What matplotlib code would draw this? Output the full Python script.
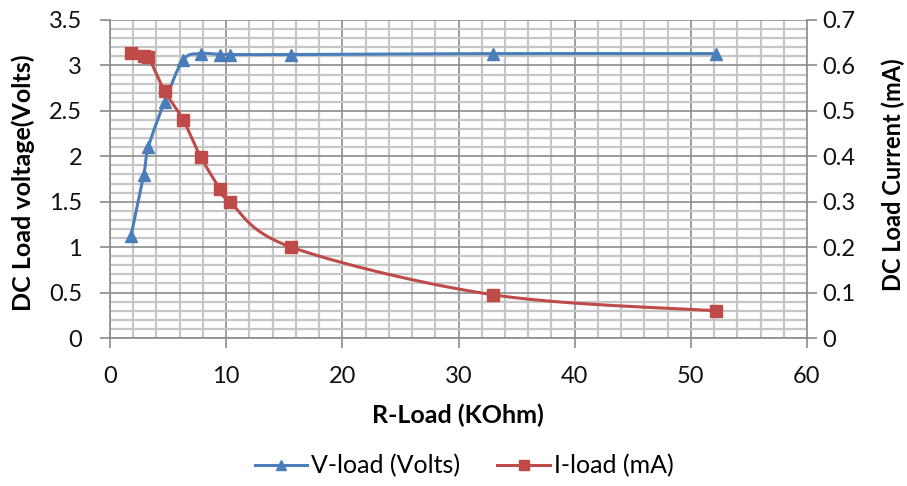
import numpy as np
import matplotlib
matplotlib.use("Agg")
import matplotlib.pyplot as plt
from matplotlib.lines import Line2D

plt.rcParams['font.family'] = ['Lato', 'DejaVu Sans']

# Measured load sweep
r_load = [1.8, 2.9, 3.3, 4.7, 6.3, 7.8, 9.5, 10.3, 15.6, 33.0, 52.2]
v_load = [1.12, 1.79, 2.10, 2.60, 3.06, 3.13, 3.12, 3.12, 3.12, 3.13, 3.13]
i_load = [0.628, 0.621, 0.619, 0.544, 0.480, 0.399, 0.327, 0.300, 0.200, 0.095, 0.060]

x_ticks = [0, 10, 20, 30, 40, 50, 60]
v_ticks = [0, 0.5, 1, 1.5, 2, 2.5, 3, 3.5]
v_labels = ["0", "0.5", "1", "1.5", "2", "2.5", "3", "3.5"]
i_ticks = [0, 0.1, 0.2, 0.3, 0.4, 0.5, 0.6, 0.7]
i_labels = ["0", "0.1", "0.2", "0.3", "0.4", "0.5", "0.6", "0.7"]

BLUE = "#4A7EBB"
RED = "#BE4B48"
AXIS = "#8c8c8c"

W, H = 907, 486
fig = plt.figure(figsize=(W / 100, H / 100), dpi=100)
left, right, top, bottom = 110 / W, 807 / W, 1 - 20 / H, 1 - 338 / H
ax = fig.add_axes([left, bottom, right - left, top - bottom])
ax2 = ax.twinx()

xmax, vmax, imax = 60, 3.5, 0.7
px_w, px_h = 697.0, 318.0


def smooth(xs, ys, ymax, n=40):
    """Cardinal Bezier smoothing through the points, computed in screen space."""
    P = np.column_stack([np.asarray(xs) / xmax * px_w,
                         np.asarray(ys) / ymax * px_h])
    out = [P[0]]
    for k in range(len(P) - 1):
        p0 = P[k - 1] if k > 0 else P[k]
        p1, p2 = P[k], P[k + 1]
        p3 = P[k + 2] if k + 2 < len(P) else P[k + 1]
        c1 = p1 + (p2 - p0) / 6.0
        c2 = p2 - (p3 - p1) / 6.0
        t = np.linspace(0, 1, n)[1:, None]
        seg = ((1 - t) ** 3) * p1 + 3 * ((1 - t) ** 2) * t * c1 \
            + 3 * (1 - t) * t ** 2 * c2 + t ** 3 * p2
        out.extend(seg)
    out = np.array(out)
    return out[:, 0] / px_w * xmax, out[:, 1] / px_h * ymax


# Grid: majors every 10 / 0.5, minors every 2 / 0.1
for xv in np.arange(0, 61, 2):
    major = xv % 10 == 0
    ax.axvline(xv, color=AXIS if major else "#c6c6c6",
               lw=1.2 if major else 1.6, zorder=0)
for yv in np.arange(0, 3.51, 0.1):
    major = abs(yv / 0.5 - round(yv / 0.5)) < 1e-6
    ax.axhline(yv, color=AXIS if major else "#c6c6c6",
               lw=1.2 if major else 1.6, zorder=0)

sx, sy = smooth(r_load, v_load, vmax)
ax.plot(sx, sy, color=BLUE, lw=2.2, zorder=3)
ax.plot(r_load, v_load, ls="none", marker="^", ms=8.5, color=BLUE, zorder=4)

sx, sy = smooth(r_load, i_load, imax)
ax2.plot(sx, sy, color=RED, lw=2.2, zorder=3)
ax2.plot(r_load, i_load, ls="none", marker="s", ms=8, color=RED, zorder=4)

ax.set_xlim(0, xmax)
ax.set_ylim(0, vmax)
ax2.set_ylim(0, imax)
ax.set_xticks(x_ticks)
ax.set_xticklabels([str(v) for v in x_ticks])
ax.set_yticks(v_ticks)
ax.set_yticklabels(v_labels)
ax2.set_yticks(i_ticks)
ax2.set_yticklabels(i_labels)

for a in (ax, ax2):
    for s in a.spines.values():
        s.set_visible(False)
    a.tick_params(labelsize=17, labelcolor="#111111", color=AXIS,
                  length=7, width=1.2, direction="out")
ax.tick_params(axis="x", pad=13)
ax.tick_params(axis="y", pad=13)
ax2.tick_params(axis="y", pad=4)
for a, side in ((ax, "left"), (ax, "bottom"), (ax2, "right")):
    a.spines[side].set_visible(True)
    a.spines[side].set_color(AXIS)
    a.spines[side].set_linewidth(1.2)

# Axis titles
fig.text(23 / W, 1 - 183 / H, "DC Load voltage(Volts)", rotation=90,
         ha="center", va="center", fontsize=18, fontweight="bold")
fig.text(893 / W, 1 - 175 / H, "DC Load Current (mA)", rotation=90,
         ha="center", va="center", fontsize=17, fontweight="bold")
fig.text(458 / W, 1 - 415 / H, "R-Load (KOhm)",
         ha="center", va="center", fontsize=18, fontweight="bold")

handles = [
    Line2D([], [], color=BLUE, lw=2.2, marker="^", ms=7),
    Line2D([], [], color=RED, lw=2.2, marker="s", ms=7),
]
fig.legend(handles, ["V-load (Volts)", "I-load (mA)"], loc="center",
           bbox_to_anchor=(464 / W, 1 - 466 / H), ncol=2, frameon=False,
           fontsize=18, handlelength=2.1, columnspacing=1.5, handletextpad=0.15,
           borderpad=0, borderaxespad=0)

fig.savefig("out.png", dpi=100, facecolor="white")
